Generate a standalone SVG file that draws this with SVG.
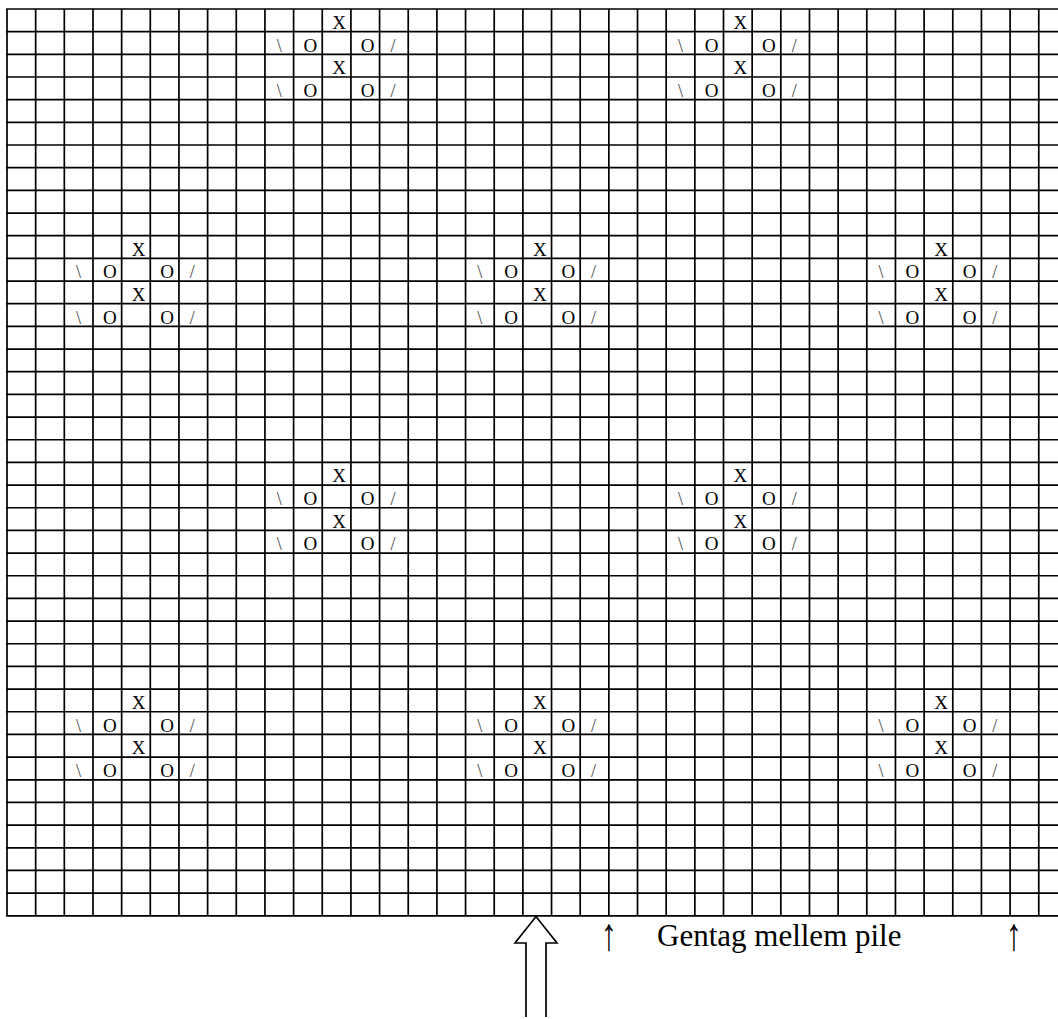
<svg xmlns="http://www.w3.org/2000/svg" width="1058" height="1019" viewBox="0 0 1058 1019">
<style>
.grid{fill:none;stroke:#000;stroke-width:1.7}
.t{font-family:"Liberation Serif","Times New Roman",serif;font-size:19px;fill:#000;text-anchor:middle}
.s{font-family:"Liberation Serif","Times New Roman",serif;font-size:18px;fill:#444;text-anchor:middle}
.lbl{font-family:"Liberation Serif","Times New Roman",serif;font-size:31px;fill:#000}
.up{font-family:"Liberation Serif","Times New Roman",serif;font-size:46px;fill:#000;text-anchor:middle}
.arr{fill:#fff;stroke:#000;stroke-width:1.7;stroke-linejoin:miter}
</style>
<rect width="1058" height="1019" fill="#fff"/>
<g id="grid" class="grid">
<path d="M7 9V915.8M35.66 9V915.8M64.32 9V915.8M92.98 9V915.8M121.64 9V915.8M150.3 9V915.8M178.96 9V915.8M207.62 9V915.8M236.28 9V915.8M264.94 9V915.8M293.6 9V915.8M322.26 9V915.8M350.92 9V915.8M379.58 9V915.8M408.24 9V915.8M436.9 9V915.8M465.56 9V915.8M494.22 9V915.8M522.88 9V915.8M551.54 9V915.8M580.2 9V915.8M608.86 9V915.8M637.52 9V915.8M666.18 9V915.8M694.84 9V915.8M723.5 9V915.8M752.16 9V915.8M780.82 9V915.8M809.48 9V915.8M838.14 9V915.8M866.8 9V915.8M895.46 9V915.8M924.12 9V915.8M952.78 9V915.8M981.44 9V915.8M1010.1 9V915.8M1038.76 9V915.8"/>
<path d="M6.15 9H1070M6.15 31.67H1070M6.15 54.34H1070M6.15 77.01H1070M6.15 99.68H1070M6.15 122.35H1070M6.15 145.02H1070M6.15 167.69H1070M6.15 190.36H1070M6.15 213.03H1070M6.15 235.7H1070M6.15 258.37H1070M6.15 281.04H1070M6.15 303.71H1070M6.15 326.38H1070M6.15 349.05H1070M6.15 371.72H1070M6.15 394.39H1070M6.15 417.06H1070M6.15 439.73H1070M6.15 462.4H1070M6.15 485.07H1070M6.15 507.74H1070M6.15 530.41H1070M6.15 553.08H1070M6.15 575.75H1070M6.15 598.42H1070M6.15 621.09H1070M6.15 643.76H1070M6.15 666.43H1070M6.15 689.1H1070M6.15 711.77H1070M6.15 734.44H1070M6.15 757.11H1070M6.15 779.78H1070M6.15 802.45H1070M6.15 825.12H1070M6.15 847.79H1070M6.15 870.46H1070M6.15 893.13H1070M6.15 915.8H1070"/>
</g>
<g id="motif-1" transform="translate(264.94 9)">
<text class="t" x="74.2" y="20">X</text><text class="s" x="14.3" y="42.7">\</text><text class="t" x="45.5" y="42.7">O</text><text class="t" x="102.8" y="42.7">O</text><text class="s" x="128" y="42.7">/</text>
<text class="t" x="74.2" y="65.3">X</text><text class="s" x="14.3" y="88">\</text><text class="t" x="45.5" y="88">O</text><text class="t" x="102.8" y="88">O</text><text class="s" x="128" y="88">/</text>
</g>
<g id="motif-2" transform="translate(666.18 9)">
<text class="t" x="74.2" y="20">X</text><text class="s" x="14.3" y="42.7">\</text><text class="t" x="45.5" y="42.7">O</text><text class="t" x="102.8" y="42.7">O</text><text class="s" x="128" y="42.7">/</text>
<text class="t" x="74.2" y="65.3">X</text><text class="s" x="14.3" y="88">\</text><text class="t" x="45.5" y="88">O</text><text class="t" x="102.8" y="88">O</text><text class="s" x="128" y="88">/</text>
</g>
<g id="motif-3" transform="translate(64.32 235.7)">
<text class="t" x="74.2" y="20">X</text><text class="s" x="14.3" y="42.7">\</text><text class="t" x="45.5" y="42.7">O</text><text class="t" x="102.8" y="42.7">O</text><text class="s" x="128" y="42.7">/</text>
<text class="t" x="74.2" y="65.3">X</text><text class="s" x="14.3" y="88">\</text><text class="t" x="45.5" y="88">O</text><text class="t" x="102.8" y="88">O</text><text class="s" x="128" y="88">/</text>
</g>
<g id="motif-4" transform="translate(465.56 235.7)">
<text class="t" x="74.2" y="20">X</text><text class="s" x="14.3" y="42.7">\</text><text class="t" x="45.5" y="42.7">O</text><text class="t" x="102.8" y="42.7">O</text><text class="s" x="128" y="42.7">/</text>
<text class="t" x="74.2" y="65.3">X</text><text class="s" x="14.3" y="88">\</text><text class="t" x="45.5" y="88">O</text><text class="t" x="102.8" y="88">O</text><text class="s" x="128" y="88">/</text>
</g>
<g id="motif-5" transform="translate(866.8 235.7)">
<text class="t" x="74.2" y="20">X</text><text class="s" x="14.3" y="42.7">\</text><text class="t" x="45.5" y="42.7">O</text><text class="t" x="102.8" y="42.7">O</text><text class="s" x="128" y="42.7">/</text>
<text class="t" x="74.2" y="65.3">X</text><text class="s" x="14.3" y="88">\</text><text class="t" x="45.5" y="88">O</text><text class="t" x="102.8" y="88">O</text><text class="s" x="128" y="88">/</text>
</g>
<g id="motif-6" transform="translate(264.94 462.4)">
<text class="t" x="74.2" y="20">X</text><text class="s" x="14.3" y="42.7">\</text><text class="t" x="45.5" y="42.7">O</text><text class="t" x="102.8" y="42.7">O</text><text class="s" x="128" y="42.7">/</text>
<text class="t" x="74.2" y="65.3">X</text><text class="s" x="14.3" y="88">\</text><text class="t" x="45.5" y="88">O</text><text class="t" x="102.8" y="88">O</text><text class="s" x="128" y="88">/</text>
</g>
<g id="motif-7" transform="translate(666.18 462.4)">
<text class="t" x="74.2" y="20">X</text><text class="s" x="14.3" y="42.7">\</text><text class="t" x="45.5" y="42.7">O</text><text class="t" x="102.8" y="42.7">O</text><text class="s" x="128" y="42.7">/</text>
<text class="t" x="74.2" y="65.3">X</text><text class="s" x="14.3" y="88">\</text><text class="t" x="45.5" y="88">O</text><text class="t" x="102.8" y="88">O</text><text class="s" x="128" y="88">/</text>
</g>
<g id="motif-8" transform="translate(64.32 689.1)">
<text class="t" x="74.2" y="20">X</text><text class="s" x="14.3" y="42.7">\</text><text class="t" x="45.5" y="42.7">O</text><text class="t" x="102.8" y="42.7">O</text><text class="s" x="128" y="42.7">/</text>
<text class="t" x="74.2" y="65.3">X</text><text class="s" x="14.3" y="88">\</text><text class="t" x="45.5" y="88">O</text><text class="t" x="102.8" y="88">O</text><text class="s" x="128" y="88">/</text>
</g>
<g id="motif-9" transform="translate(465.56 689.1)">
<text class="t" x="74.2" y="20">X</text><text class="s" x="14.3" y="42.7">\</text><text class="t" x="45.5" y="42.7">O</text><text class="t" x="102.8" y="42.7">O</text><text class="s" x="128" y="42.7">/</text>
<text class="t" x="74.2" y="65.3">X</text><text class="s" x="14.3" y="88">\</text><text class="t" x="45.5" y="88">O</text><text class="t" x="102.8" y="88">O</text><text class="s" x="128" y="88">/</text>
</g>
<g id="motif-10" transform="translate(866.8 689.1)">
<text class="t" x="74.2" y="20">X</text><text class="s" x="14.3" y="42.7">\</text><text class="t" x="45.5" y="42.7">O</text><text class="t" x="102.8" y="42.7">O</text><text class="s" x="128" y="42.7">/</text>
<text class="t" x="74.2" y="65.3">X</text><text class="s" x="14.3" y="88">\</text><text class="t" x="45.5" y="88">O</text><text class="t" x="102.8" y="88">O</text><text class="s" x="128" y="88">/</text>
</g>
<g id="connectors">
<polyline class="arr" points="526,1017 526,943 515,943 536,916.5 557,943 546,943 546,1017"/>
</g>
<g id="legend">
<text class="up" transform="translate(609 950) scale(0.7 1)">↑</text>
<text class="lbl" x="657" y="946">Gentag mellem pile</text>
<text class="up" transform="translate(1014 950) scale(0.7 1)">↑</text>
</g>
</svg>
